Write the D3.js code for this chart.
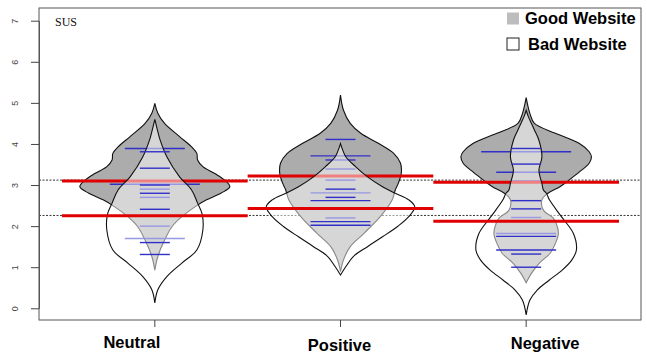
<!DOCTYPE html>
<html><head><meta charset="utf-8">
<script src="https://cdn.jsdelivr.net/npm/d3@7"></script>
<style>body{margin:0;background:#fff}</style>
</head><body>
<svg id="c" width="647" height="354"></svg>
<script>
// ---------- data ----------
const categories = ["Neutral", "Positive", "Negative"];
const legendLabels = ["Good Website", "Bad Website"];
const yTicks = [0, 1, 2, 3, 4, 5, 6, 7];
const overallMeans = [3.12, 2.26];
const goodMeans = [3.10, 3.22, 3.07];
const badMeans = [2.25, 2.43, 2.12];

// density profiles: [value, relative density]
const goodNeutralDensity = [[4.99,0],[4.75,.04],[4.5,.13],[4.18,.33],[3.93,.49],[3.77,.56],[3.61,.57],[3.45,.64],[3.28,.8],[3.12,.93],[2.96,1],[2.8,.88],[2.64,.69],[2.5,.56],[2.23,.36],[1.99,.23],[1.66,.13],[1.26,.04],[0.93,0]];
const badNeutralDensity = [[4.6,0],[4.3,.04],[4.1,.07],[3.69,.16],[3.2,.33],[2.88,.49],[2.56,.57],[2.3,.63],[1.9,.64],[1.42,.56],[1.1,.36],[0.77,.16],[0.45,.04],[0.13,0]];
const goodPositiveDensity = [[5.19,0],[4.82,.04],[4.5,.13],[4.26,.27],[4.01,.51],[3.77,.71],[3.53,.8],[3.28,.81],[3.04,.77],[2.88,.73],[2.64,.69],[2.23,.53],[1.82,.31],[1.5,.13],[1.18,.04],[0.89,0]];
const badPositiveDensity = [[4.01,0],[3.85,.03],[3.69,.07],[3.45,.2],[3.2,.36],[2.96,.56],[2.8,.73],[2.64,.91],[2.47,.99],[2.23,.91],[1.99,.76],[1.74,.56],[1.5,.36],[1.26,.17],[1.01,.07],[0.81,0]];
const goodNegativeDensity = [[5.13,0],[4.74,.05],[4.5,.11],[4.26,.39],[4.01,.71],[3.81,.84],[3.69,.87],[3.53,.84],[3.32,.71],[3.12,.57],[2.96,.45],[2.8,.29],[2.64,.21],[2.39,.23],[2.2,.36],[2.07,.4],[1.82,.43],[1.58,.39],[1.34,.32],[1.09,.17],[0.85,.07],[0.62,0]];
const badNegativeDensity = [[4.82,0],[4.66,.03],[4.5,.07],[4.34,.11],[4.09,.17],[3.69,.21],[3.36,.17],[3.04,.21],[2.88,.23],[2.8,.27],[2.64,.31],[2.23,.47],[1.82,.63],[1.42,.67],[1.18,.61],[0.93,.48],[0.69,.31],[0.45,.15],[0.2,.05],[-0.16,0]];

// bean lines: [value, overlap count]
const goodNeutralLines = [[3.89,2],[3.02,3],[2.9,1],[2.7,1],[2.0,1],[1.7,2]];
const badNeutralLines = [[3.81,1],[3.41,1],[3.0,1],[2.8,1],[2.41,1],[2.25,1],[1.6,1],[1.31,1]];
const goodPositiveLines = [[4.11,1],[3.71,2],[3.61,1],[3.39,1],[3.12,1],[2.81,2],[2.2,1]];
const badPositiveLines = [[2.9,1],[2.7,1],[2.62,2],[2.42,1],[2.11,2],[2.02,2]];
const goodNegativeLines = [[3.81,3],[3.31,2],[3.1,1],[2.21,1],[1.82,2]];
const badNegativeLines = [[3.89,1],[3.51,1],[2.62,1],[2.42,1],[1.75,2],[1.42,2],[1.32,1],[1.0,1]];

const goodDensities = [goodNeutralDensity, goodPositiveDensity, goodNegativeDensity];
const badDensities = [badNeutralDensity, badPositiveDensity, badNegativeDensity];
const goodLines = [goodNeutralLines, goodPositiveLines, goodNegativeLines];
const badLines = [badNeutralLines, badPositiveLines, badNegativeLines];

// ---------- layout ----------
const box = {left: 39, right: 641, top: 8, bottom: 320};
const svg = d3.select("#c");
const x = d3.scaleBand().domain(categories).range([62, 619]).paddingInner(0).paddingOuter(0);
const cx = c => x(c) + x.bandwidth() / 2;
const y = d3.scaleLinear().domain([0, 7]).range([308.3, 20.7]);
const w = d3.scaleLinear().domain([0, 1]).range([0, 75]);
const lineLen = d3.scaleLinear().domain([0, 1]).range([0, 30]);

const GOOD_FILL = "#acacac", BLUE = "#3030c8", RED = "#e00000";

// overall mean dotted lines
svg.selectAll("line.overall").data(overallMeans).join("line")
  .attr("x1", box.left).attr("x2", box.right)
  .attr("y1", d => y(d)).attr("y2", d => y(d))
  .attr("stroke", "#333").attr("stroke-width", 1).attr("stroke-dasharray", "2,1.5");

const area = c => d3.area().curve(d3.curveCatmullRom.alpha(0.5))
  .y(d => y(d[0])).x0(d => cx(c) - w(d[1])).x1(d => cx(c) + w(d[1]));

function drawGroup(densities, lines, means, fill, fillOpacity) {
  categories.forEach((c, i) => {
    const g = svg.append("g");
    g.append("path").attr("d", area(c)(densities[i]))
      .attr("fill", fill).attr("fill-opacity", fillOpacity)
      .attr("stroke", "#111").attr("stroke-width", 1.1);
    g.selectAll("line.bean").data(lines[i]).join("line")
      .attr("x1", d => cx(c) - lineLen(d[1]) / 2).attr("x2", d => cx(c) + lineLen(d[1]) / 2)
      .attr("y1", d => y(d[0])).attr("y2", d => y(d[0]))
      .attr("stroke", BLUE).attr("stroke-width", 1.4);
    g.append("line")
      .attr("x1", x(c)).attr("x2", x(c) + x.bandwidth())
      .attr("y1", y(means[i])).attr("y2", y(means[i]))
      .attr("stroke", RED).attr("stroke-width", 3);
  });
}
drawGroup(goodDensities, goodLines, goodMeans, GOOD_FILL, 1);
drawGroup(badDensities, badLines, badMeans, "#fff", 0.5);

// box
svg.append("rect").attr("x", box.left).attr("y", box.top)
  .attr("width", box.right - box.left).attr("height", box.bottom - box.top)
  .attr("fill", "none").attr("stroke", "#555").attr("stroke-width", 1);

// y axis
const yAxis = svg.append("g").attr("transform", `translate(${box.left},0)`)
  .call(d3.axisLeft(y).tickValues(yTicks).tickFormat(d3.format("d")).tickSize(8).tickSizeOuter(0).tickPadding(0));
yAxis.select(".domain").attr("stroke", "#555");
yAxis.selectAll(".tick line").attr("stroke", "#444");
yAxis.selectAll(".tick text")
  .attr("x", 0).attr("dy", 0)
  .attr("transform", "translate(-24,0) rotate(-90)")
  .attr("text-anchor", "middle").attr("dominant-baseline", "central")
  .style("font-family", "'Liberation Sans', Arial, sans-serif").style("font-size", "9px").attr("fill", "#444");

// x axis ticks
const xAxis = svg.append("g").attr("transform", `translate(0,${box.bottom})`)
  .call(d3.axisBottom(x).tickSize(7).tickSizeOuter(0));
xAxis.select(".domain").remove();
xAxis.selectAll(".tick line").attr("stroke", "#444");
xAxis.selectAll(".tick text").remove();
const labelShift = {Neutral: [-23, 28], Positive: [-1, 30.5], Negative: [19, 29]};
svg.selectAll("text.xlab").data(categories).join("text")
  .attr("x", d => cx(d) + labelShift[d][0]).attr("y", d => box.bottom + labelShift[d][1])
  .attr("text-anchor", "middle")
  .style("font-family", "'Liberation Sans', Arial, sans-serif").style("font-weight", "bold").style("font-size", "16.5px")
  .attr("fill", "#000").text(d => d);

// SUS title
svg.append("text").attr("x", 55).attr("y", 26)
  .style("font-family", "'Liberation Serif', 'Times New Roman', serif").style("font-size", "12px")
  .attr("fill", "#111").text("SUS");

// legend
const legY = [12.5, 38];
const legend = svg.selectAll("g.leg").data(legendLabels).join("g")
  .attr("transform", (d, i) => `translate(507,${legY[i]})`);
legend.append("rect").attr("width", 12).attr("height", 12)
  .attr("fill", (d, i) => i === 0 ? "#bdbdbd" : "#fff")
  .attr("stroke", (d, i) => i === 0 ? "none" : "#222").attr("stroke-width", 1);
legend.append("text")
  .attr("x", (d, i) => i === 0 ? 18 : 21).attr("y", 11.5)
  .style("font-family", "'Liberation Sans', Arial, sans-serif").style("font-weight", "bold").style("font-size", "16.5px")
  .attr("fill", "#000").text(d => d);
</script>
</body></html>
